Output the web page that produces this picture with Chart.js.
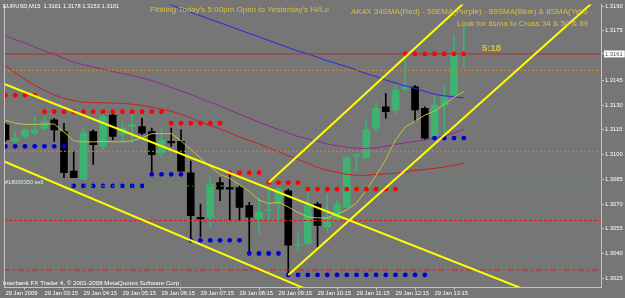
<!DOCTYPE html>
<html><head><meta charset="utf-8">
<script src="https://cdn.jsdelivr.net/npm/chart.js@4/dist/chart.umd.min.js"></script>
<style>html,body{margin:0;padding:0;background:#767676;overflow:hidden}canvas{display:block}</style>
</head><body>
<canvas id="c" width="625" height="298"></canvas>
<script>
// ---------- DATA ----------
const symbol = "EURUSD", period = "M15";
const xTickBars = [0,4,8,12,16,20,24,28,32,36,40,44];
const xTickLabels = ["29 Jan 2009","29 Jan 03:15","29 Jan 04:15","29 Jan 05:15","29 Jan 06:15","29 Jan 07:15","29 Jan 08:15","29 Jan 09:15","29 Jan 10:15","29 Jan 11:15","29 Jan 12:15","29 Jan 13:15"];
const yTickValues = [1.3025,1.3040,1.3055,1.3070,1.3085,1.3100,1.3115,1.3130,1.3145,1.3175,1.3190];
const bidPrice = 1.3161;

const opens  = [1.3118,1.3108,1.3111,1.3113,1.3116,1.3121,1.3114,1.3090,1.3085,1.3114,1.3105,1.3124,1.3112,1.3117,1.3117,1.3114,1.3101,1.3108,1.3108,1.3089,1.3062,1.3062,1.3083,1.3080,1.3080,1.3069,1.3061,1.3066,1.3070,1.3078,1.3045,1.3046,1.3070,1.3056,1.3060,1.3068,1.3099,1.3098,1.3116,1.3129,1.3127,1.3140,1.3141,1.3128,1.3110,1.3130,1.3136,1.3161];
const highs  = [1.3119,1.3114,1.3116,1.3123,1.3123,1.3122,1.3119,1.3102,1.3116,1.3115,1.3126,1.3126,1.3120,1.3125,1.3122,1.3116,1.3116,1.3116,1.3115,1.3096,1.3070,1.3086,1.3086,1.3089,1.3081,1.3071,1.3074,1.3084,1.3080,1.3079,1.3053,1.3079,1.3071,1.3076,1.3072,1.3099,1.3100,1.3121,1.3132,1.3137,1.3142,1.3161,1.3142,1.3129,1.3135,1.3142,1.3172,1.3178];
const lows   = [1.3108,1.3107,1.3110,1.3112,1.3115,1.3108,1.3086,1.3086,1.3085,1.3094,1.3103,1.3109,1.3108,1.3107,1.3112,1.3089,1.3098,1.3105,1.3090,1.3048,1.3050,1.3056,1.3072,1.3060,1.3060,1.3040,1.3052,1.3060,1.3060,1.3026,1.3042,1.3045,1.3044,1.3054,1.3060,1.3068,1.3090,1.3098,1.3114,1.3122,1.3125,1.3139,1.3120,1.3109,1.3110,1.3111,1.3135,1.3153];
const closes = [1.3109,1.3110,1.3115,1.3115,1.3120,1.3115,1.3089,1.3086,1.3113,1.3106,1.3123,1.3111,1.3116,1.3118,1.3113,1.3100,1.3109,1.3107,1.3090,1.3063,1.3061,1.3082,1.3079,1.3079,1.3068,1.3062,1.3065,1.3066,1.3079,1.3045,1.3045,1.3069,1.3057,1.3062,1.3070,1.3098,1.3100,1.3115,1.3128,1.3126,1.3139,1.3140,1.3127,1.3110,1.3130,1.3135,1.3161,1.3161];

const sma34 = [1.31539,1.31497,1.31455,1.31419,1.31389,1.31362,1.31341,1.31326,1.31317,1.31315,1.31314,1.31312,1.31311,1.31305,1.31299,1.31287,1.31275,1.31263,1.31245,1.31221,1.31197,1.31176,1.31155,1.31131,1.31107,1.31086,1.31065,1.31041,1.31017,1.30993,1.30970,1.30946,1.30922,1.30904,1.30892,1.30880,1.30874,1.30874,1.30880,1.30883,1.30886,1.30895,1.30904,1.30910,1.30916,1.30925,1.30934,1.30947];
const ema50 = [1.31720,1.31697,1.31676,1.31652,1.31628,1.31607,1.31584,1.31560,1.31545,1.31530,1.31518,1.31503,1.31491,1.31479,1.31464,1.31449,1.31428,1.31407,1.31386,1.31365,1.31341,1.31317,1.31296,1.31269,1.31245,1.31221,1.31197,1.31173,1.31152,1.31131,1.31110,1.31095,1.31080,1.31065,1.31053,1.31044,1.31038,1.31037,1.31041,1.31050,1.31062,1.31071,1.31080,1.31089,1.31101,1.31113,1.31131,1.31152];
const sma89 = [null,null,null,null,null,null,null,null,null,null,null,null,null,null,null,null,1.31929,1.31908,1.31884,1.31863,1.31842,1.31820,1.31799,1.31778,1.31756,1.31734,1.31714,1.31692,1.31670,1.31649,1.31628,1.31611,1.31590,1.31569,1.31551,1.31533,1.31512,1.31491,1.31473,1.31452,1.31434,1.31416,1.31401,1.31383,1.31366,1.31356,1.31350,1.31344];
const sma8 = [1.31209,1.31191,1.31183,1.31183,1.31185,1.31185,1.31137,1.31083,1.31077,1.31077,1.31080,1.31077,1.31077,1.31083,1.31101,1.31127,1.31127,1.31127,1.31083,1.31032,1.30979,1.30928,1.30880,1.30856,1.30817,1.30778,1.30724,1.30703,1.30712,1.30682,1.30649,1.30622,1.30616,1.30616,1.30640,1.30664,1.30706,1.30784,1.30874,1.30970,1.31089,1.31167,1.31203,1.31239,1.31263,1.31305,1.31347,1.31383];

const resistance = [1.3136,1.3136,1.3136,1.3136,1.3126,1.3126,1.3126,1.3126,1.3126,1.3126,1.3126,1.3126,1.3126,1.3126,1.3126,1.3126,1.3126,1.3119,1.3119,1.3119,1.3119,1.3119,1.3119,1.3089,1.3089,1.3089,1.3089,1.3083,1.3083,1.3083,1.3083,1.3079,1.3079,1.3079,1.3079,1.3079,1.3079,1.3079,1.3079,1.3079,1.3079,1.3161,1.3161,1.3161,1.3161,1.3161,1.3161,1.3161];
const support = [1.3105,1.3105,1.3105,1.3105,1.3105,1.3105,1.3105,1.3081,1.3081,1.3081,1.3081,1.3081,1.3081,1.3081,1.3081,1.3088,1.3088,1.3088,1.3088,1.3048,1.3048,1.3048,1.3048,1.3048,1.3048,1.3040,1.3040,1.3040,1.3040,1.3027,1.3027,1.3027,1.3027,1.3027,1.3027,1.3027,1.3027,1.3027,1.3027,1.3027,1.3027,1.3027,1.3027,1.3027,1.3110,1.3110,1.3110,1.3110];

const fibUpper = 1.3151, fibMiddle = 1.3102, orderLevel = 1.3081, fibLower1 = 1.3060, fibLower2 = 1.3030;
const channelA = [[-1,1.31448],[54,1.30164]];
const channelB = [[-1,1.30980],[34,1.30105]];
const channelC = [[27,1.30830],[50,1.32081]];
const channelD = [[29,1.30270],[62,1.32017]];

const titleText = "Fibbing Today's 5:00pm Open to Yesterday's Hi/Lo";
const legendText = "AK4X 34SMA(Red) - 50EMA(Purple) - 89SMA(Blue) & 8SMA(Yello";
const hintText = "Look for 8sma to Cross 34 & 50 & 89";
const timerText = "5:18";
const orderText = "#18000350 sell";
const copyrightText = "Interbank FX Trader 4, \u00A9 2001-2008 MetaQuotes Software Corp.";

// ---------- CHART ----------
const X_MIN = -0.15, X_MAX = 61.07, Y_MIN = 1.30197, Y_MAX = 1.31910;
const BG = '#767676', GREEN = '#3cb371', BLACK = '#000000', GOLD = '#d8c038';
const FONT = "'Liberation Sans', Arial, sans-serif";
const idx = opens.map((_, i) => i);
const isBull = i => closes[i] >= opens[i];
const candleColors = idx.map(i => isBull(i) ? GREEN : BLACK);
const pts = arr => arr.map((v, i) => ({x: i, y: v}));
const hline = v => [{x: X_MIN, y: v}, {x: X_MAX, y: v}];
const seg = a => a.map(p => ({x: p[0], y: p[1]}));
const lineDs = (data, color, width, dash) => ({type: 'line', data, borderColor: color, borderWidth: width, borderDash: dash || [], pointRadius: 0, fill: false, tension: 0});
const dotDs = (arr, color) => ({type: 'line', data: pts(arr), showLine: false, pointRadius: 2.4, pointBackgroundColor: color, pointBorderColor: color, pointBorderWidth: 0});

const datasets = [
  lineDs(seg(channelA), '#ffff00', 2),
  lineDs(seg(channelB), '#ffff00', 2),
  lineDs(seg(channelC), '#ffff00', 2),
  lineDs(seg(channelD), '#ffff00', 2),
  lineDs(hline(bidPrice), '#c02828', 1),
  lineDs(hline(fibUpper), '#cc8a24', 1, [2, 2]),
  lineDs(hline(fibMiddle), '#cc8a24', 1, [2, 2]),
  lineDs(hline(orderLevel), '#3ca03c', 1, [5, 3, 1, 3]),
  lineDs(hline(fibLower1), '#e01818', 1, [3, 2]),
  lineDs(hline(fibLower2), '#e01818', 1, [6, 3, 2, 3]),
  dotDs(resistance, '#ff0000'),
  dotDs(support, '#0000d0'),
  lineDs(pts(sma8), '#c8c040', 1),
  lineDs(pts(sma89), '#2828e0', 1),
  lineDs(pts(ema50), '#902890', 1),
  lineDs(pts(sma34), '#c82020', 1),
  {type: 'bar', data: idx.map(i => ({x: i, y: [opens[i], closes[i]]})), backgroundColor: candleColors, barThickness: 7, minBarLength: 1, grouped: false, borderWidth: 0},
  {type: 'bar', data: idx.map(i => ({x: i, y: [lows[i], highs[i]]})), backgroundColor: candleColors, barThickness: 1, grouped: false, borderWidth: 0}
];

const bgPlugin = {id: 'bg', beforeDraw(c) { const ctx = c.ctx; ctx.save(); ctx.fillStyle = BG; ctx.fillRect(0, 0, c.width, c.height); ctx.restore(); }};
const framePlugin = {id: 'frame', afterDraw(c) {
  const a = c.chartArea, ctx = c.ctx; ctx.save(); ctx.strokeStyle = '#c4c4c4'; ctx.lineWidth = 1;
  ctx.beginPath(); ctx.moveTo(a.left + 0.5, a.top); ctx.lineTo(a.left + 0.5, a.bottom); ctx.stroke(); ctx.restore();
}};
const last = opens.length - 1;
const headerText = symbol + "," + period + "  " + [opens[last], highs[last], lows[last], closes[last]].map(v => v.toFixed(4)).join(" ");
const texts = [
  {t: headerText, x: 3, y: 7.6, f: "5.8px " + FONT, c: '#ffffff'},
  {t: titleText, x: 150, y: 12.4, f: "8px " + FONT, c: GOLD},
  {t: legendText, x: 351, y: 13.6, f: "8px " + FONT, c: GOLD},
  {t: hintText, x: 457, y: 25.8, f: "8px " + FONT, c: GOLD},
  {t: timerText, x: 482, y: 50.8, f: "bold 9.5px " + FONT, c: '#e8c020'},
  {t: orderText, x: 5, y: 184, f: "5.6px " + FONT, c: '#e8e8e8'},
  {t: copyrightText, x: 3, y: 284.6, f: "6.2px " + FONT, c: '#ffffff'}
];
const textPlugin = {id: 'texts', afterDraw(c) {
  const ctx = c.ctx; ctx.save(); ctx.textAlign = 'left'; ctx.textBaseline = 'alphabetic';
  texts.forEach(o => { ctx.font = o.f; ctx.fillStyle = o.c; ctx.fillText(o.t, o.x, o.y); });
  ctx.restore();
}};

new Chart(document.getElementById('c'), {
  type: 'bar',
  data: {datasets},
  plugins: [bgPlugin, framePlugin, textPlugin],
  options: {
    responsive: false, animation: false, events: [],
    layout: {padding: {left: 1, top: 1, right: 0, bottom: 0}},
    plugins: {legend: {display: false}, tooltip: {enabled: false}, title: {display: false}},
    scales: {
      x: {
        type: 'linear', min: X_MIN, max: X_MAX, offset: false,
        afterBuildTicks: s => { s.ticks = xTickBars.map(v => ({value: v})); },
        afterFit: s => { s.height = 11; },
        ticks: {autoSkip: false, maxRotation: 0, minRotation: 0, align: 'start', padding: 0, color: '#ffffff',
          font: {family: FONT, size: 5.8}, callback: (v, i) => xTickLabels[i]},
        grid: {drawOnChartArea: false, drawTicks: true, tickLength: 3, color: '#c4c4c4'},
        border: {display: true, color: '#c4c4c4'}
      },
      y: {
        position: 'right', min: Y_MIN, max: Y_MAX,
        afterBuildTicks: s => { s.ticks = yTickValues.concat([bidPrice]).sort((a, b) => a - b).map(v => ({value: v})); },
        afterFit: s => { s.width = 24; },
        ticks: {autoSkip: false, padding: 1,
          color: ctx => (ctx.tick && Math.abs(ctx.tick.value - bidPrice) < 1e-9) ? '#555555' : '#ffffff',
          showLabelBackdrop: ctx => !!(ctx.tick && Math.abs(ctx.tick.value - bidPrice) < 1e-9),
          backdropColor: '#ffffff', backdropPadding: {top: 0, bottom: 0, left: 1, right: 2},
          font: {family: FONT, size: 5.8}, callback: v => Number(v).toFixed(4)},
        grid: {drawOnChartArea: false, drawTicks: true, tickLength: 3, color: '#c4c4c4'},
        border: {display: true, color: '#c4c4c4'}
      }
    }
  }
});
</script>
</body></html>
